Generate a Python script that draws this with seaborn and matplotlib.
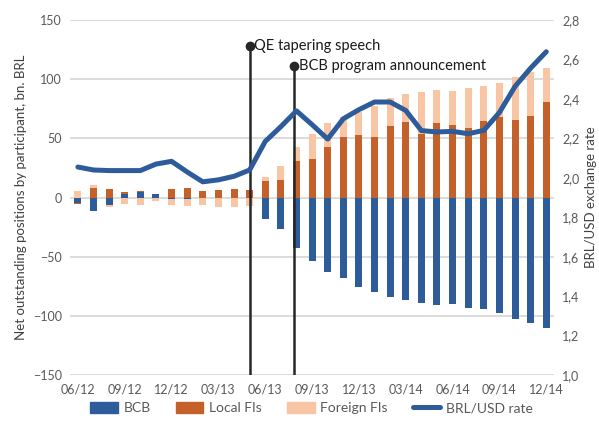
import numpy as np
import pandas as pd
import matplotlib
matplotlib.use("Agg")
import matplotlib.pyplot as plt
import seaborn as sns
from matplotlib.patches import Patch
from matplotlib.lines import Line2D

# datos (mensual, 06/12 a 12/14)
meses = pd.date_range("2012-06-01", periods=31, freq="MS").strftime("%m/%y").tolist()
bcb = [-4.2, -11.3, -6.2, 3.4, 4.5, 3.4, -1.0, -1.0, 0, 0, 0, 0,
       -18.3, -26.8, -43.0, -53.5, -62.8, -68.2, -75.2, -79.7, -84.0, -86.8,
       -89.0, -91.0, -90.0, -93.0, -94.4, -97.7, -102.3, -106.0, -109.9]
local_fis = [-1.4, 7.9, 7.0, 1.4, 1.4, 0, 7.0, 7.9, 5.6, 6.5, 7.6, 6.5,
             14.1, 14.7, 31.0, 32.4, 42.8, 51.4, 53.0, 51.4, 60.7, 63.6,
             53.6, 62.7, 61.6, 58.8, 65.0, 67.8, 65.6, 69.2, 80.8]
foreign_fis = [5.7, 2.8, -1.4, -5.1, -6.2, -3.0, -5.5, -6.5, -6.2, -7.6, -7.9, -7.0,
               3.7, 11.6, 11.8, 21.0, 20.0, 17.0, 19.0, 26.3, 23.4, 24.0,
               35.4, 28.3, 28.2, 33.9, 29.4, 29.4, 36.7, 36.7, 28.5]
brl_usd = [2.055, 2.04, 2.037, 2.037, 2.037, 2.07, 2.084, 2.03, 1.98, 1.99, 2.008, 2.04,
           2.185, 2.26, 2.34, 2.27, 2.197, 2.30, 2.346, 2.385, 2.385, 2.342,
           2.24, 2.233, 2.236, 2.224, 2.241, 2.332, 2.464, 2.557, 2.64]
tick_labels = meses[::3]

# eventos
eventos = ["QE tapering speech", "BCB program announcement"]
evento_x = [11, 13.85]
evento_top = [128, 111]

AZUL = "#2E5C9A"
NARANJA = "#C4602A"
DURAZNO = "#F8C6A4"
GRIS = "#595959"

sns.set_theme(style="white")
plt.rcParams["font.family"] = ["Lato", "DejaVu Sans"]

df = pd.DataFrame({"mes": np.arange(len(meses)), "bcb": bcb,
                   "local": local_fis, "foreign": foreign_fis, "rate": brl_usd})

fig = plt.figure(figsize=(5.99, 4.30), dpi=100)
ax = fig.add_axes([0.117, 0.128, 0.808, 0.825])

# apilado tipo Excel: positivos y negativos por separado
# se dibujan las sumas acumuladas de afuera hacia adentro
for signo in (1, -1):
    partes = [np.clip(signo * df[c].values, 0, None) * signo for c in ("bcb", "local", "foreign")]
    acum = np.cumsum(partes, axis=0)
    for nivel, color in zip([2, 1, 0], [DURAZNO, NARANJA, AZUL]):
        sns.barplot(x=df["mes"], y=acum[nivel], color=color, saturation=1,
                    width=0.45, errorbar=None, ax=ax, linewidth=0)

ax.set_xlim(-0.5, 30.5)
ax.set_ylim(-150, 150)
ax.set_yticks(np.arange(-150, 151, 50))
ax.set_xticks(np.arange(0, 31, 3))
ax.set_xticklabels(tick_labels)
ax.grid(axis="y", color="#D9D9D9", linewidth=1.3)
ax.set_axisbelow(True)
ax.tick_params(axis="both", length=0, labelsize=9, labelcolor=GRIS, pad=6)
ax.set_xlabel("")
ax.set_ylabel("Net outstanding positions by participant, bn. BRL", fontsize=9.5, color="#404040")
for s in ax.spines.values():
    s.set_visible(False)

# lineas verticales de eventos
for nombre, xe, top in zip(eventos, evento_x, evento_top):
    ax.plot([xe, xe], [-150, top], color="#262626", linewidth=1.8, zorder=5)
    ax.plot(xe, top, "o", color="#262626", markersize=6, zorder=6)
    ax.text(xe + 0.3, top, nombre, fontsize=10.5, color="#1a1a1a", va="center", ha="left", zorder=6)

ax2 = ax.twinx()
sns.lineplot(x=df["mes"], y=df["rate"], ax=ax2, color=AZUL, linewidth=3.6,
             solid_capstyle="round", solid_joinstyle="round")
ax2.set_ylim(1.0, 2.8)
ax2.set_yticks(np.arange(1.0, 2.81, 0.2))
ax2.set_yticklabels([f"{v:.1f}".replace(".", ",") for v in np.arange(1.0, 2.81, 0.2)])
ax2.tick_params(axis="y", length=0, labelsize=9, labelcolor=GRIS, pad=6)
ax2.set_ylabel("BRL/USD exchange rate", fontsize=9.5, color="#404040")
ax2.set_xlabel("")
ax2.grid(False)
for s in ax2.spines.values():
    s.set_visible(False)

handles = [Patch(color=AZUL), Patch(color=NARANJA), Patch(color=DURAZNO),
           Line2D([0], [0], color=AZUL, linewidth=3.6, solid_capstyle="round")]
fig.legend(handles, ["BCB", "Local FIs", "Foreign FIs", "BRL/USD rate"],
           loc="lower center", bbox_to_anchor=(0.52, 0.008), ncol=4, frameon=False,
           fontsize=10, handlelength=2.0, handleheight=0.8, columnspacing=1.8,
           handletextpad=0.4, labelcolor=GRIS)

fig.savefig("out.png", dpi=100)
